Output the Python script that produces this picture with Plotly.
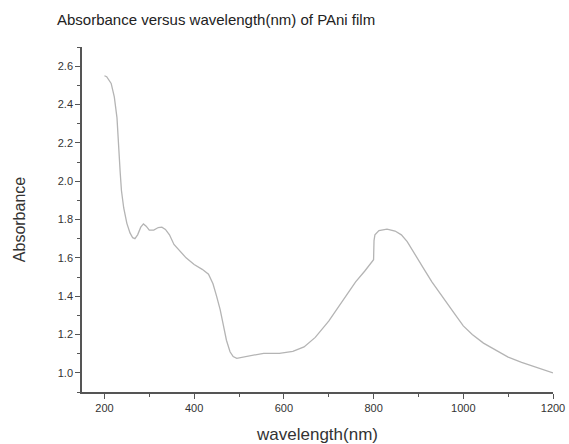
import plotly.graph_objects as go

# UV-Vis-NIR absorbance spectrum of a polyaniline (PAni) film
wavelength_nm = [
    200, 205, 215, 222, 228, 232, 235, 238, 243, 250, 257, 263, 268, 274, 281,
    287, 293, 300, 310, 320, 328, 336, 345, 355, 365, 382, 400, 418, 432, 442,
    450, 458, 465, 472, 480, 487, 495, 510, 530, 555, 590, 620, 645, 670, 700,
    730, 760, 780, 795, 800, 801, 803, 812, 830, 848, 862, 875, 890, 910, 930,
    955, 980, 1000, 1020, 1045, 1070, 1100, 1130, 1160, 1185, 1200,
]
absorbance = [
    2.55, 2.545, 2.51, 2.44, 2.33, 2.20, 2.05, 1.95, 1.86, 1.78, 1.73, 1.705, 1.70, 1.72, 1.76,
    1.777, 1.765, 1.745, 1.745, 1.758, 1.76, 1.748, 1.72, 1.67, 1.645, 1.60, 1.565, 1.54, 1.515, 1.465,
    1.40, 1.33, 1.25, 1.17, 1.11, 1.085, 1.076, 1.082, 1.093, 1.102, 1.102, 1.112, 1.135, 1.185, 1.27,
    1.37, 1.475, 1.53, 1.575, 1.59, 1.69, 1.72, 1.742, 1.75, 1.74, 1.72, 1.685, 1.625, 1.55, 1.475,
    1.39, 1.31, 1.245, 1.20, 1.155, 1.12, 1.082, 1.055, 1.03, 1.012, 1.0,
]

axis_color = "#555555"
text_color = "#333333"
font_family = "Liberation Sans, Arial, sans-serif"

fig = go.Figure(
    go.Scatter(
        x=wavelength_nm,
        y=absorbance,
        mode="lines",
        line=dict(color="#b4b4b4", width=1.3),
        hoverinfo="x+y",
    )
)

common_axis = dict(
    showgrid=False,
    zeroline=False,
    showline=True,
    linecolor=axis_color,
    linewidth=1.5,
    ticks="outside",
    ticklen=5,
    tickwidth=1.2,
    tickcolor=axis_color,
    tickfont=dict(family=font_family, size=11, color=text_color),
    automargin=False,
)

fig.update_xaxes(
    **common_axis,
    range=[150, 1200],
    tick0=200,
    dtick=200,
    minor=dict(ticks="outside", ticklen=3, tickcolor=axis_color, dtick=100, tick0=200),
    title=dict(
        text="wavelength(nm)",
        font=dict(family=font_family, size=17, color=text_color),
        standoff=15,
    ),
)

fig.update_yaxes(
    **common_axis,
    range=[0.9, 2.7],
    tick0=1.0,
    dtick=0.2,
    tickformat=".1f",
    minor=dict(ticks="outside", ticklen=3, tickcolor=axis_color, dtick=0.1, tick0=1.0),
    title=dict(
        text="Absorbance",
        font=dict(family=font_family, size=16, color=text_color),
        standoff=28,
    ),
)

fig.update_layout(
    width=569,
    height=444,
    paper_bgcolor="white",
    plot_bgcolor="white",
    showlegend=False,
    margin=dict(l=82, r=16, t=47, b=52),
    title=dict(
        text="Absorbance versus wavelength(nm) of PAni film",
        font=dict(family=font_family, size=15, color="#222222"),
        x=57 / 569,
        xanchor="left",
        y=1 - 20 / 444,
        yanchor="middle",
    ),
)

fig.write_html("out.html")
